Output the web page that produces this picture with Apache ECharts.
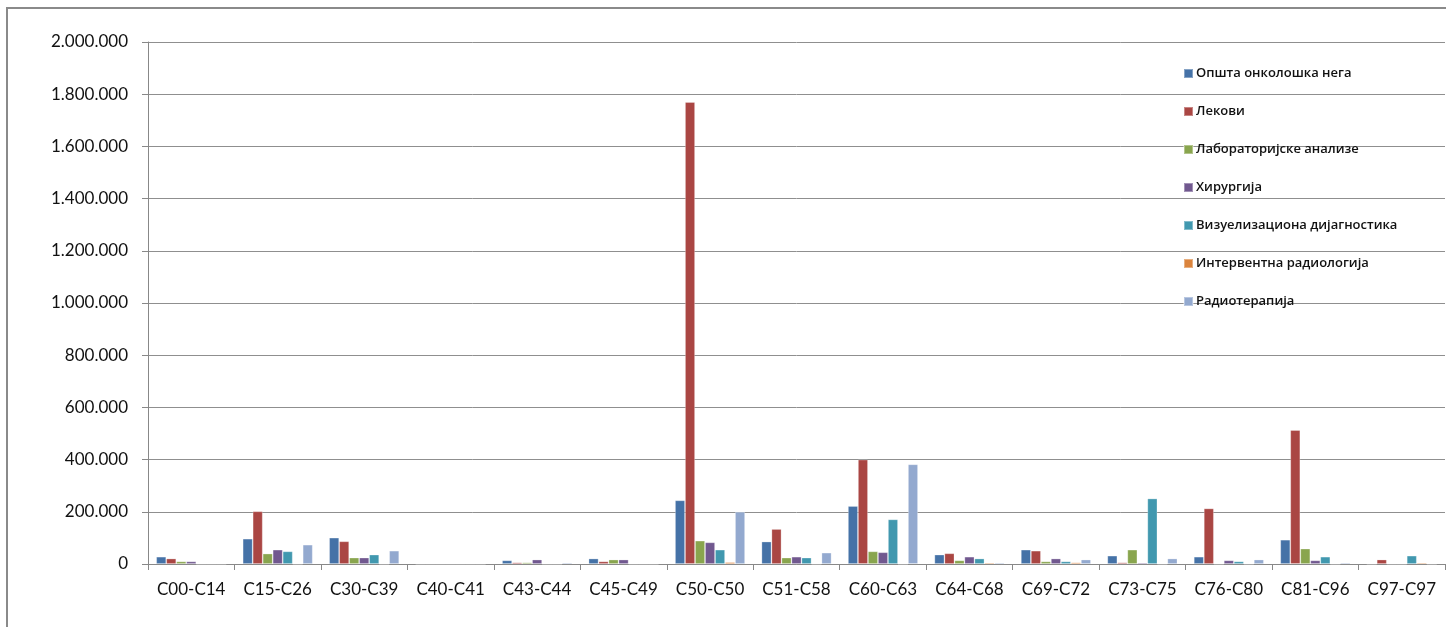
<!DOCTYPE html>
<html>
<head>
<meta charset="utf-8">
<script src="https://cdn.jsdelivr.net/npm/echarts@6/dist/echarts.min.js"></script>
<style>
  html, body { margin: 0; padding: 0; background: #fff; }
  #chart { width: 1446px; height: 627px; }
</style>
</head>
<body>
<div id="chart"></div>
<script>
// ICD-10 groups along the x axis
const categories = ['C00-C14', 'C15-C26', 'C30-C39', 'C40-C41', 'C43-C44', 'C45-C49', 'C50-C50',
  'C51-C58', 'C60-C63', 'C64-C68', 'C69-C72', 'C73-C75', 'C76-C80', 'C81-C96', 'C97-C97'];

const seriesNames = ['Општа онколошка нега', 'Лекови', 'Лабораторијске анализе', 'Хирургија',
  'Визуелизациона дијагностика', 'Интервентна радиологија', 'Радиотерапија'];

const opstaNega      = [28000, 97000, 101000, 0, 14000, 21000, 244000, 86000, 222000, 36000, 55000, 32000, 28000, 93000, 0];
const lekovi         = [21000, 202000, 87000, 0, 6000, 10000, 1770000, 134000, 400000, 41000, 51000, 6000, 213000, 513000, 17000];
const laboratorija   = [10000, 40000, 24500, 0, 6000, 17000, 89500, 24500, 48500, 14000, 10000, 55000, 0, 59000, 0];
const hirurgija      = [10000, 55000, 24500, 0, 17000, 17000, 83000, 28000, 45000, 28000, 21000, 5000, 14000, 14000, 0];
const vizuelizacija  = [0, 48500, 36000, 0, 0, 0, 55000, 24500, 171000, 21000, 10000, 251000, 10000, 28000, 32000];
const intervencija   = [0, 0, 0, 0, 0, 0, 7000, 0, 0, 5000, 6000, 0, 0, 0, 5000];
const radioterapija  = [0, 74000, 51000, 0, 5000, 0, 200000, 43500, 382000, 5000, 17000, 21000, 17000, 5000, 0];

const seriesData = [opstaNega, lekovi, laboratorija, hirurgija, vizuelizacija, intervencija, radioterapija];
const colors = ['#4572A7', '#AA4643', '#89A54E', '#71588F', '#4198AF', '#DB843D', '#93A9CF'];

// thousands separated with dots: 1.800.000
function fmt(v) {
  return String(v).replace(/\B(?=(\d{3})+(?!\d))/g, '.');
}

const chart = echarts.init(document.getElementById('chart'), null, { renderer: 'canvas' });

chart.setOption({
  animation: false,
  color: colors,
  textStyle: { fontFamily: 'Lato, "Open Sans", sans-serif' },
  graphic: [{
    type: 'rect',
    shape: { x: 7, y: 8, width: 1460, height: 640 },
    style: { fill: 'none', stroke: '#8a8a8a', lineWidth: 2 },
    silent: true,
    z: -1
  }],
  grid: { left: 148, right: 1, top: 42, bottom: 63, containLabel: false },
  legend: {
    orient: 'vertical',
    left: 1178,
    top: 61,
    itemWidth: 9,
    itemHeight: 9,
    itemGap: 23,
    icon: 'rect',
    data: seriesNames,
    textStyle: {
      fontFamily: '"Open Sans", sans-serif',
      fontSize: 13,
      fontWeight: 600,
      lineHeight: 15,
      color: '#111',
      padding: [0, 0, 0, -2]
    }
  },
  xAxis: {
    type: 'category',
    data: categories,
    boundaryGap: true,
    axisLine: { lineStyle: { color: '#888', width: 1 } },
    axisTick: { show: true, alignWithLabel: false, length: 6, lineStyle: { color: '#888' } },
    axisLabel: { color: '#111', fontSize: 17, margin: 17, interval: 0 },
    splitLine: { show: false }
  },
  yAxis: {
    type: 'value',
    min: 0,
    max: 2000000,
    interval: 200000,
    axisLine: { show: true, lineStyle: { color: '#888', width: 1 } },
    axisTick: { show: true, length: 6, lineStyle: { color: '#888' } },
    axisLabel: { color: '#111', fontSize: 17, margin: 20, formatter: fmt },
    splitLine: { show: true, lineStyle: { color: '#8f8f8f', width: 1 } }
  },
  series: seriesNames.map((name, i) => ({
    name: name,
    type: 'bar',
    data: seriesData[i],
    barGap: '0%',
    barCategoryGap: '19%',
    itemStyle: { borderColor: 'rgba(255,255,255,0.35)', borderWidth: 0.8 }
  }))
});
</script>
</body>
</html>
